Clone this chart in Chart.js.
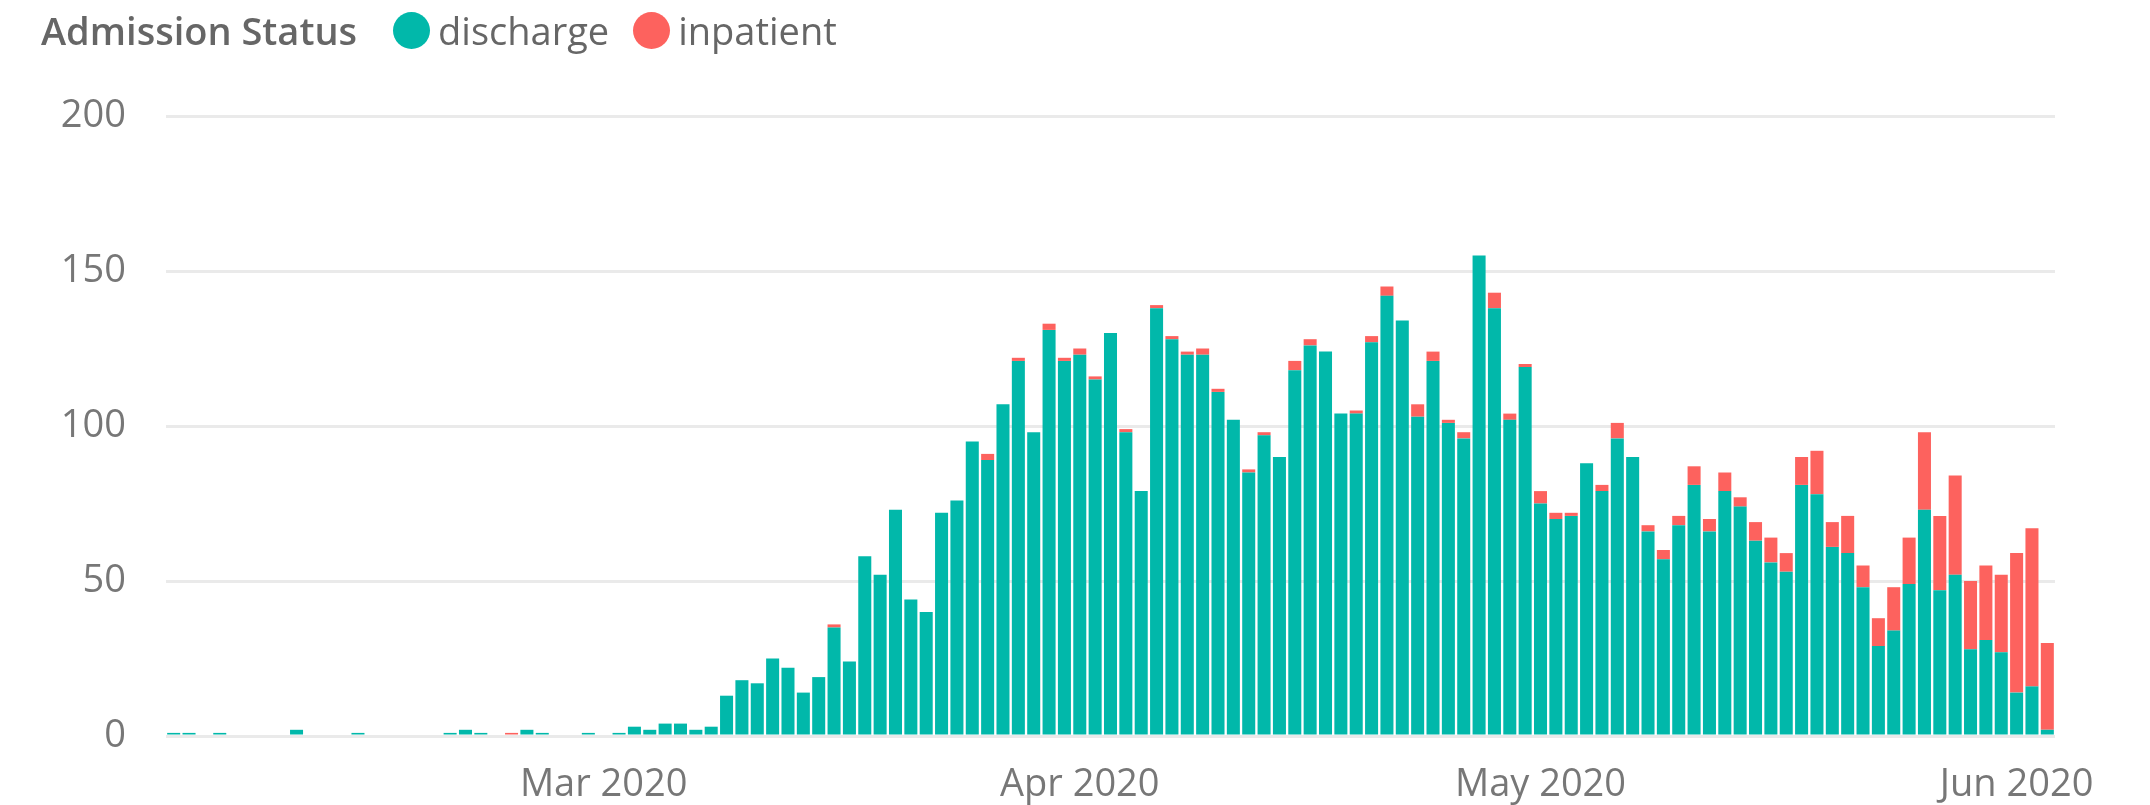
<!DOCTYPE html>
<html>
<head>
<meta charset="utf-8">
<title>Admission Status</title>
<script src="https://cdn.jsdelivr.net/npm/chart.js@4"></script>
<style>
  body { margin: 0; background: #fff; }
  #wrap { position: relative; width: 2150px; height: 805px; }
  #legend {
    position: absolute; left: 41px; top: 4px; height: 52px;
    display: flex; align-items: center;
    font-family: 'Open Sans', sans-serif; font-size: 38px; color: #666;
  }
  #legend .title { font-weight: 600; margin-right: 36px; }
  #legend .item { display: flex; align-items: center; margin-right: 24px; }
  #legend .dot { width: 37px; height: 37px; border-radius: 50%; margin-right: 8px; }
</style>
</head>
<body>
<div id="wrap">
  <div id="legend"><span class="title">Admission Status</span></div>
  <canvas id="barChart"></canvas>
</div>
<script>
// one bar per day, 2020-02-02 .. 2020-06-03
const startDate = '2020-02-02';
const dayCount = 123;

const discharge = [
  1, 1, 0, 1, 0, 0, 0, 0, 2, 0, 0, 0, 1, 0, 0, 0, 0, 0, 1, 2,
  1, 0, 0, 2, 1, 0, 0, 1, 0, 1, 3, 2, 4, 4, 2, 3, 13, 18, 17, 25,
  22, 14, 19, 35, 24, 58, 52, 73, 44, 40, 72, 76, 95, 89, 107, 121, 98, 131, 121, 123,
  115, 130, 98, 79, 138, 128, 123, 123, 111, 102, 85, 97, 90, 118, 126, 124, 104, 104, 127, 142,
  134, 103, 121, 101, 96, 155, 138, 102, 119, 75, 70, 71, 88, 79, 96, 90, 66, 57, 68, 81,
  66, 79, 74, 63, 56, 53, 81, 78, 61, 59, 48, 29, 34, 49, 73, 47, 52, 28, 31, 27,
  14, 16, 2
];
const inpatient = [
  0, 0, 0, 0, 0, 0, 0, 0, 0, 0, 0, 0, 0, 0, 0, 0, 0, 0, 0, 0,
  0, 0, 1, 0, 0, 0, 0, 0, 0, 0, 0, 0, 0, 0, 0, 0, 0, 0, 0, 0,
  0, 0, 0, 1, 0, 0, 0, 0, 0, 0, 0, 0, 0, 2, 0, 1, 0, 2, 1, 2,
  1, 0, 1, 0, 1, 1, 1, 2, 1, 0, 1, 1, 0, 3, 2, 0, 0, 1, 2, 3,
  0, 4, 3, 1, 2, 0, 5, 2, 1, 4, 2, 1, 0, 2, 5, 0, 2, 3, 3, 6,
  4, 6, 3, 6, 8, 6, 9, 14, 8, 12, 7, 9, 14, 15, 25, 24, 32, 22, 24, 25,
  45, 51, 28
];

const seriesNames = ['discharge', 'inpatient'];
const seriesColors = ['#01B8AA', '#FD625E'];
const legendTitle = 'Admission Status';

const tickDates = ['2020-03-01', '2020-04-01', '2020-05-01', '2020-06-01'];
const tickLabels = ['Mar 2020', 'Apr 2020', 'May 2020', 'Jun 2020'];

// build day categories
const days = [];
const d0 = new Date(startDate + 'T00:00:00Z');
for (let i = 0; i < dayCount; i++) {
  const d = new Date(d0.getTime());
  d.setUTCDate(d0.getUTCDate() + i);
  days.push(d.toISOString().slice(0, 10));
}

// html legend
const legendEl = document.getElementById('legend');
legendEl.querySelector('.title').textContent = legendTitle;
seriesNames.forEach((name, i) => {
  const item = document.createElement('span');
  item.className = 'item';
  const dot = document.createElement('span');
  dot.className = 'dot';
  dot.style.background = seriesColors[i];
  item.appendChild(dot);
  item.appendChild(document.createTextNode(name));
  legendEl.appendChild(item);
});

Chart.defaults.font.family = "'Open Sans', sans-serif";
Chart.defaults.font.size = 38;

const ctx = document.getElementById('barChart').getContext('2d');
const barChart = new Chart(ctx, {
  type: 'bar',
  data: {
    labels: days,
    datasets: [
      { label: seriesNames[0], data: discharge, backgroundColor: seriesColors[0] },
      { label: seriesNames[1], data: inpatient, backgroundColor: seriesColors[1] }
    ]
  },
  options: {
    responsive: true,
    maintainAspectRatio: false,
    animation: false,
    borderWidth: 0,
    categoryPercentage: 1,
    barPercentage: 0.848,
    layout: { padding: { top: 116, right: 95, left: 0, bottom: 0 } },
    plugins: {
      legend: { display: false },
      tooltip: { enabled: false }
    },
    scales: {
      x: {
        stacked: true,
        grid: { display: false },
        border: { display: false },
        afterFit: (scale) => { scale.height = 69; },
        ticks: {
          autoSkip: false,
          maxRotation: 0,
          padding: 18,
          color: '#777777',
          callback: (value, index) => {
            const k = tickDates.indexOf(days[index]);
            return k >= 0 ? tickLabels[k] : null;
          }
        }
      },
      y: {
        stacked: true,
        min: 0,
        max: 200,
        grid: { color: '#EAEAEA', lineWidth: 3, drawTicks: false },
        border: { display: false },
        afterFit: (scale) => { scale.width = 166; },
        ticks: { stepSize: 50, padding: 40, color: '#777777' }
      }
    }
  }
});
</script>
</body>
</html>
